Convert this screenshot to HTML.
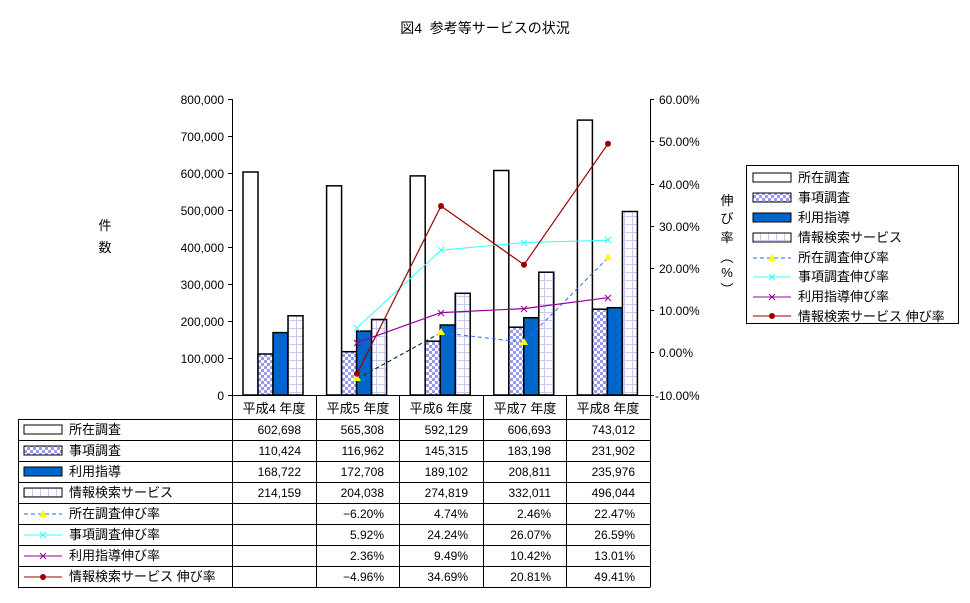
<!DOCTYPE html>
<html><head><meta charset="utf-8"><style>
body{margin:0;background:#fff}
svg{display:block;font-family:"Liberation Sans","Noto Sans CJK JP",sans-serif;}
</style></head><body>
<svg width="970" height="603" viewBox="0 0 970 603" xmlns="http://www.w3.org/2000/svg">
<defs>
<pattern id="chk" width="6" height="6" patternUnits="userSpaceOnUse"><rect width="6" height="6" fill="#fff"/><rect width="3" height="3" fill="#9999ee"/><rect x="3" y="3" width="3" height="3" fill="#9999ee"/></pattern>
<pattern id="grd" width="8" height="8" patternUnits="userSpaceOnUse"><rect width="8" height="8" fill="#fff"/><path d="M0 0.5H8M0.5 0V8" stroke="#c8c8f0" stroke-width="1"/></pattern>
</defs>
<text x="485" y="33" font-size="14" text-anchor="middle">図4&#160;&#160;参考等サービスの状況</text>
<g stroke="#000" stroke-width="1" fill="none">
<path d="M232.5 99V395.5H650.5V99"/>
<path d="M228 99.5h4M228 136.5h4M228 173.5h4M228 210.5h4M228 247.5h4M228 284.5h4M228 321.5h4M228 358.5h4M228 395.5h4"/>
<path d="M650 99.5h4M650 141.5h4M650 184.5h4M650 226.5h4M650 268.5h4M650 310.5h4M650 352.5h4M650 395.5h4"/>
</g>
<g font-size="12" text-anchor="end">
<text x="224" y="104">800,000</text><text x="224" y="141">700,000</text><text x="224" y="178">600,000</text><text x="224" y="215">500,000</text><text x="224" y="252">400,000</text><text x="224" y="289">300,000</text><text x="224" y="326">200,000</text><text x="224" y="363">100,000</text><text x="224" y="400">0</text>
</g>
<g font-size="12">
<text x="659" y="104">60.00%</text><text x="659" y="146">50.00%</text><text x="659" y="189">40.00%</text><text x="659" y="231">30.00%</text><text x="659" y="273">20.00%</text><text x="659" y="315">10.00%</text><text x="659" y="357">0.00%</text><text x="655" y="400">-10.00%</text>
</g>
<text x="105" y="230" font-size="13" text-anchor="middle">件</text>
<text x="105" y="252" font-size="13" text-anchor="middle">数</text>
<g font-size="13" text-anchor="middle">
<text x="727" y="205">伸</text><text x="727" y="223">び</text><text x="727" y="242">率</text><text x="727" y="262">︵</text><text x="727" y="277">%</text><text x="727" y="294">︶</text>
</g>
<g stroke="#000" stroke-width="1.5">
<rect x="243" y="172" width="15" height="223" fill="#fff"/>
<rect x="258" y="354" width="15" height="41" fill="url(#chk)"/>
<rect x="273" y="332.6" width="15" height="62.4" fill="#0066cc"/>
<rect x="288" y="315.8" width="15" height="79.2" fill="url(#grd)"/>
<rect x="326.6" y="185.8" width="15" height="209.2" fill="#fff"/>
<rect x="341.6" y="351.7" width="15" height="43.3" fill="url(#chk)"/>
<rect x="356.6" y="331.1" width="15" height="63.9" fill="#0066cc"/>
<rect x="371.6" y="319.5" width="15" height="75.5" fill="url(#grd)"/>
<rect x="410.2" y="175.9" width="15" height="219.1" fill="#fff"/>
<rect x="425.2" y="341.2" width="15" height="53.8" fill="url(#chk)"/>
<rect x="440.2" y="325" width="15" height="70" fill="#0066cc"/>
<rect x="455.2" y="293.3" width="15" height="101.7" fill="url(#grd)"/>
<rect x="493.8" y="170.5" width="15" height="224.5" fill="#fff"/>
<rect x="508.8" y="327.2" width="15" height="67.8" fill="url(#chk)"/>
<rect x="523.8" y="317.7" width="15" height="77.3" fill="#0066cc"/>
<rect x="538.8" y="272.2" width="15" height="122.8" fill="url(#grd)"/>
<rect x="577.4" y="120.1" width="15" height="274.9" fill="#fff"/>
<rect x="592.4" y="309.2" width="15" height="85.8" fill="url(#chk)"/>
<rect x="607.4" y="307.7" width="15" height="87.3" fill="#0066cc"/>
<rect x="622.4" y="211.5" width="15" height="183.5" fill="url(#grd)"/>
</g>
<polyline points="357,378.9 441,332.7 524,342.3 608,257.7" fill="none" stroke="#3366ff" stroke-width="1" stroke-dasharray="4,3"/>
<path d="M357,378.9 L441,332.7" stroke="#003300" stroke-dasharray="4,3" fill="none"/>
<g fill="#ffff00"><path d="M357 374l4 7h-8z"/><path d="M441 328l4 7h-8z"/><path d="M524 338l4 7h-8z"/><path d="M608 253l4 7h-8z"/></g>
<polyline points="357,327.7 441,250.2 524,242.5 608,240.3" fill="none" stroke="#33ffff" stroke-width="1"/>
<g stroke="#33ffff"><path d="M354 325l6 6M360 325l-6 6M438 247l6 6M444 247l-6 6M521 240l6 6M527 240l-6 6M605 237l6 6M611 237l-6 6"/></g>
<polyline points="357,342.7 441,312.6 524,308.6 608,297.7" fill="none" stroke="#990099" stroke-width="1.2"/>
<g stroke="#990099"><path d="M354 340l6 6M360 340l-6 6M438 310l6 6M444 310l-6 6M521 306l6 6M527 306l-6 6M605 295l6 6M611 295l-6 6"/></g>
<polyline points="357,373.7 441,206 524,264.7 608,143.7" fill="none" stroke="#990000" stroke-width="1.2"/>
<g fill="#990000"><circle cx="357" cy="373.7" r="3"/><circle cx="441" cy="206" r="3"/><circle cx="524" cy="264.7" r="3"/><circle cx="608" cy="143.7" r="3"/></g>
<rect x="746.5" y="165.5" width="212" height="158" fill="#fff" stroke="#000"/>
<g stroke="#000" stroke-width="1">
<rect x="753" y="173" width="38" height="9" fill="#fff"/>
<rect x="753" y="193" width="38" height="9" fill="url(#chk)"/>
<rect x="753" y="213" width="38" height="9" fill="#0066cc"/>
<rect x="753" y="233" width="38" height="9" fill="url(#grd)"/>
</g>
<path d="M753 258h38" stroke="#3366ff" stroke-dasharray="4,3"/><path d="M772 254l4 7h-8z" fill="#ff0"/>
<path d="M753 277h38" stroke="#33ffff"/><path d="M769 274l6 6M775 274l-6 6" stroke="#33ffff"/>
<path d="M753 297h38" stroke="#990099"/><path d="M769 294l6 6M775 294l-6 6" stroke="#990099"/>
<path d="M753 316h38" stroke="#990000"/><circle cx="772" cy="316" r="3" fill="#990000"/>
<g font-size="13">
<text x="798" y="182">所在調査</text><text x="798" y="202">事項調査</text><text x="798" y="222">利用指導</text><text x="798" y="242">情報検索サービス</text>
<text x="798" y="262">所在調査伸び率</text><text x="798" y="281">事項調査伸び率</text><text x="798" y="301">利用指導伸び率</text><text x="798" y="321">情報検索サービス 伸び率</text>
</g>
<g stroke="#000" stroke-width="1" fill="none">
<path d="M232.5 395V587.5M316.5 395V587.5M399.5 395V587.5M483.5 395V587.5M566.5 395V587.5M650.5 395V587.5M18.5 419V587.5"/>
<path d="M18 419.5H650M18 440.5H650M18 461.5H650M18 482.5H650M18 503.5H650M18 524.5H650M18 545.5H650M18 566.5H650M18 587.5H650"/>
<rect x="24" y="425" width="38" height="9" fill="#fff"/>
<rect x="24" y="446" width="38" height="9" fill="url(#chk)"/>
<rect x="24" y="467" width="38" height="9" fill="#0066cc"/>
<rect x="24" y="488" width="38" height="9" fill="url(#grd)"/>
</g>
<path d="M24 514h38" stroke="#3366ff" stroke-dasharray="4,3"/><path d="M43 510l4 7h-8z" fill="#ff0"/>
<path d="M24 535h38" stroke="#33ffff"/><path d="M40 532l6 6M46 532l-6 6" stroke="#33ffff"/>
<path d="M24 556h38" stroke="#990099"/><path d="M40 553l6 6M46 553l-6 6" stroke="#990099"/>
<path d="M24 577h38" stroke="#990000"/><circle cx="43" cy="577" r="3" fill="#990000"/>
<g font-size="13">
<text x="69" y="434">所在調査</text><text x="69" y="455">事項調査</text><text x="69" y="476">利用指導</text><text x="69" y="497">情報検索サービス</text>
<text x="69" y="518">所在調査伸び率</text><text x="69" y="539">事項調査伸び率</text><text x="69" y="560">利用指導伸び率</text><text x="69" y="581">情報検索サービス 伸び率</text>
</g>
<g font-size="13" text-anchor="middle">
<text x="274" y="413">平成4 年度</text><text x="358" y="413">平成5 年度</text><text x="441" y="413">平成6 年度</text><text x="525" y="413">平成7 年度</text><text x="608" y="413">平成8 年度</text>
</g>
<g font-size="12" text-anchor="end">
<text x="301" y="434">602,698</text><text x="384" y="434">565,308</text><text x="468" y="434">592,129</text><text x="551" y="434">606,693</text><text x="635" y="434">743,012</text>
<text x="301" y="455">110,424</text><text x="384" y="455">116,962</text><text x="468" y="455">145,315</text><text x="551" y="455">183,198</text><text x="635" y="455">231,902</text>
<text x="301" y="476">168,722</text><text x="384" y="476">172,708</text><text x="468" y="476">189,102</text><text x="551" y="476">208,811</text><text x="635" y="476">235,976</text>
<text x="301" y="497">214,159</text><text x="384" y="497">204,038</text><text x="468" y="497">274,819</text><text x="551" y="497">332,011</text><text x="635" y="497">496,044</text>
<text x="384" y="518">−6.20%</text><text x="468" y="518">4.74%</text><text x="551" y="518">2.46%</text><text x="635" y="518">22.47%</text>
<text x="384" y="539">5.92%</text><text x="468" y="539">24.24%</text><text x="551" y="539">26.07%</text><text x="635" y="539">26.59%</text>
<text x="384" y="560">2.36%</text><text x="468" y="560">9.49%</text><text x="551" y="560">10.42%</text><text x="635" y="560">13.01%</text>
<text x="384" y="581">−4.96%</text><text x="468" y="581">34.69%</text><text x="551" y="581">20.81%</text><text x="635" y="581">49.41%</text>
</g>
</svg>
</body></html>
